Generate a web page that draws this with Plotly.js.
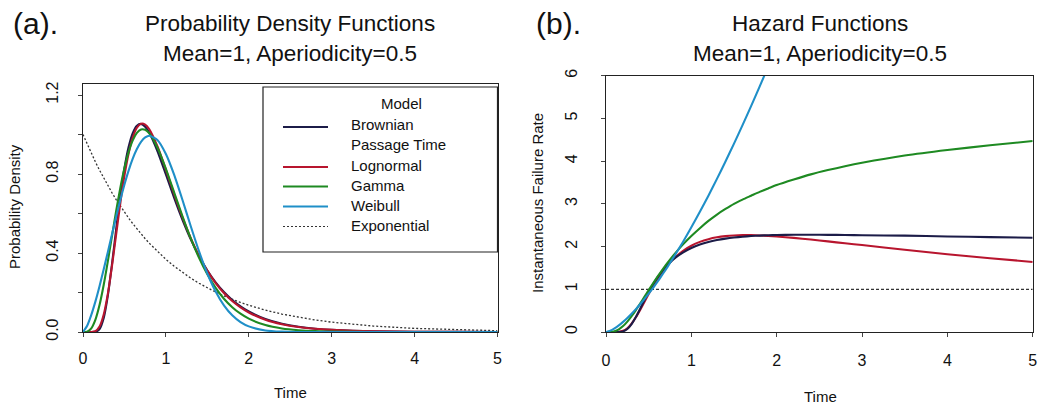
<!DOCTYPE html>
<html>
<head>
<meta charset="utf-8">
<script src="https://cdn.plot.ly/plotly-3.0.1.min.js"></script>
<style>
  html, body { margin: 0; padding: 0; background: #ffffff; }
  #chart { width: 1039px; height: 405px; }
</style>
</head>
<body>
<div id="chart"></div>
<script>
// Time grid shared by every curve
const time = [0, 0.05, 0.1, 0.15, 0.2, 0.25, 0.3, 0.35, 0.4, 0.45, 0.5, 0.55, 0.6, 0.65, 0.7, 0.75, 0.8,
              0.9, 1.0, 1.1, 1.2, 1.3, 1.4, 1.5, 1.6, 1.7, 1.8, 1.9, 2.0,
              2.2, 2.4, 2.6, 2.8, 3.0, 3.5, 4.0, 4.5, 5.0];

// Probability densities (mean 1, aperiodicity 0.5)
const pdfBPT = [0, 0, 0, 0.0009, 0.0148, 0.0709, 0.185, 0.3445, 0.521, 0.689, 0.830, 0.9366, 1.0071, 1.0445, 1.0535, 1.0398, 1.0089,
                0.9139, 0.7979, 0.6791, 0.5678, 0.4687, 0.3833, 0.3112, 0.2514, 0.2023, 0.1623, 0.1299, 0.1038,
                0.0660, 0.0419, 0.0266, 0.0168, 0.0107, 0.0034, 0.0011, 0.0004, 0.0001];
const pdfLognormal = [0, 0, 0.0002, 0.0045, 0.0277, 0.0886, 0.1942, 0.3357, 0.4947, 0.6519, 0.7916, 0.9039, 0.9848, 1.0341, 1.0546, 1.0504, 1.0266,
                      0.9383, 0.8213, 0.6976, 0.5799, 0.4749, 0.3847, 0.3093, 0.2474, 0.1972, 0.1568, 0.1246, 0.0989,
                      0.0625, 0.0397, 0.0253, 0.0163, 0.0106, 0.0037, 0.0014, 0.0005, 0.0002];
const pdfGamma = [0, 0.002, 0.0187, 0.0627, 0.1375, 0.2391, 0.3591, 0.4868, 0.6129, 0.7294, 0.8300, 0.9109, 0.9704, 1.0082, 1.0252, 1.0236, 1.0056,
                  0.9319, 0.8261, 0.7062, 0.5859, 0.4741, 0.3755, 0.2920, 0.2234, 0.1686, 0.1257, 0.0925, 0.0675,
                  0.0350, 0.0176, 0.0087, 0.0042, 0.0020, 0.0003, 0.0001, 0, 0];
const pdfWeibull = [0, 0.0318, 0.0866, 0.1550, 0.2330, 0.3174, 0.4057, 0.4954, 0.5837, 0.6682, 0.7468, 0.8172, 0.8775, 0.9263, 0.9623, 0.9849, 0.9937,
                    0.9713, 0.9013, 0.7956, 0.6685, 0.5352, 0.4081, 0.2963, 0.2049, 0.1348, 0.0843, 0.0501, 0.0284,
                    0.0077, 0.0017, 0.0003, 0, 0, 0, 0, 0, 0];
const pdfExponential = [1, 0.9512, 0.9048, 0.8607, 0.8187, 0.7788, 0.7408, 0.7047, 0.6703, 0.6376, 0.6065, 0.5769, 0.5488, 0.5220, 0.4966, 0.4724, 0.4493,
                        0.4066, 0.3679, 0.3329, 0.3012, 0.2725, 0.2466, 0.2231, 0.2019, 0.1827, 0.1653, 0.1496, 0.1353,
                        0.1108, 0.0907, 0.0743, 0.0608, 0.0498, 0.0302, 0.0183, 0.0111, 0.0067];

// Hazard functions (instantaneous failure rate)
const hazBPT = [0, 0, 0, 0.0009, 0.0148, 0.0711, 0.1866, 0.3521, 0.5445, 0.7436, 0.9345, 1.1096, 1.2662, 1.404, 1.5237, 1.6272, 1.7166,
                1.8602, 1.9672, 2.0469, 2.1068, 2.152, 2.1863, 2.2119, 2.2313, 2.246, 2.2573, 2.2647, 2.270,
                2.2754, 2.2762, 2.274, 2.2712, 2.266, 2.255, 2.2366, 2.221, 2.208];
const hazLognormal = [0, 0, 0.0002, 0.0045, 0.0277, 0.0889, 0.1962, 0.3438, 0.5176, 0.7032, 0.8886, 1.0655, 1.2295, 1.3781, 1.5107, 1.6276, 1.7302,
                      1.8965, 2.0197, 2.1094, 2.1726, 2.2161, 2.2438, 2.2600, 2.2670, 2.2669, 2.2604, 2.2507, 2.2355,
                      2.2030, 2.1659, 2.1214, 2.0760, 2.035, 1.926, 1.822, 1.728, 1.64];
const hazGamma = [0, 0.002, 0.0187, 0.0628, 0.1385, 0.2431, 0.3708, 0.5138, 0.6663, 0.823, 0.9796, 1.1336, 1.283, 1.4264, 1.5631, 1.6932, 1.8172,
                  2.0452, 2.247, 2.43, 2.6, 2.75, 2.88, 3.0, 3.1, 3.19, 3.28, 3.36, 3.44,
                  3.57, 3.69, 3.79, 3.88, 3.96, 4.13, 4.26, 4.37, 4.47];
const hazWeibull = [0, 0.0318, 0.0870, 0.1565, 0.2376, 0.3282, 0.4275, 0.5347, 0.6489, 0.7697, 0.8968, 1.0297, 1.1681, 1.3120, 1.4608, 1.6144, 1.7728,
                    2.1029, 2.45, 2.8131, 3.1914, 3.5841, 3.9906, 4.4106, 4.8434, 5.2883, 5.7454, 6.2137, 6.6937];
const expTime = [0, 5];
const hazExponential = [1, 1];

// Model names, legend labels and line colours
const models = ["Brownian Passage Time", "Lognormal", "Gamma", "Weibull", "Exponential"];
const legendLabels = ["Brownian", "Passage Time", "Lognormal", "Gamma", "Weibull", "Exponential"];
const colors = ["#1c1c48", "#b8152e", "#1e8a22", "#1f8fc8", "#333333"];

const xTicks = [0, 1, 2, 3, 4, 5];
const pdfTickVals = [0, 0.2, 0.4, 0.6, 0.8, 1.0, 1.2];
const pdfTickText = ["0.0", "", "0.4", "", "0.8", "", "1.2"];
const hazTickVals = [0, 1, 2, 3, 4, 5, 6];

const W = 1039, H = 405;
const FONT = "Liberation Sans, Arial, Helvetica, sans-serif";
const px = v => v / W;
const py = v => 1 - v / H;

function curve(x, y, i, xa, ya, dash) {
  return {
    x: x, y: y, xaxis: xa, yaxis: ya, type: "scatter", mode: "lines",
    name: models[i], showlegend: false, hoverinfo: "skip",
    line: {color: colors[i], width: dash ? 1.3 : 2.1, dash: dash || "solid", shape: dash ? "linear" : "spline", smoothing: 0.6}
  };
}

const data = [
  curve(time, pdfExponential, 4, "x", "y", "2px,2px"),
  curve(time, pdfBPT, 0, "x", "y"),
  curve(time, pdfLognormal, 1, "x", "y"),
  curve(time, pdfGamma, 2, "x", "y"),
  curve(time, pdfWeibull, 3, "x", "y"),
  curve(expTime, hazExponential, 4, "x2", "y2", "3px,2px"),
  curve(time, hazLognormal, 1, "x2", "y2"),
  curve(time, hazBPT, 0, "x2", "y2"),
  curve(time, hazGamma, 2, "x2", "y2"),
  curve(time.slice(0, hazWeibull.length), hazWeibull, 3, "x2", "y2")
];

const axisCommon = {
  showline: true, mirror: true, linecolor: "#222", linewidth: 1.2,
  ticks: "outside", ticklen: 4, tickwidth: 1, tickcolor: "#444",
  showgrid: false, zeroline: false, fixedrange: true,
  tickfont: {family: FONT, size: 16, color: "#111"}
};

const layout = {
  width: W, height: H,
  margin: {l: 0, r: 0, t: 0, b: 0},
  paper_bgcolor: "#ffffff", plot_bgcolor: "#ffffff",
  font: {family: FONT, color: "#111"},
  showlegend: false,
  xaxis: Object.assign({}, axisCommon, {
    domain: [px(83), px(497.5)], range: [0, 5], anchor: "y",
    tickvals: xTicks, ticklabelstandoff: 8
  }),
  yaxis: Object.assign({}, axisCommon, {
    domain: [py(332), py(84)], range: [0, 1.2557], anchor: "x",
    tickvals: pdfTickVals, ticktext: pdfTickText, tickangle: -90, ticklabelstandoff: 13
  }),
  xaxis2: Object.assign({}, axisCommon, {
    domain: [px(606), px(1032.7)], range: [0, 5], anchor: "y2",
    tickvals: xTicks, ticklabelstandoff: 10
  }),
  yaxis2: Object.assign({}, axisCommon, {
    domain: [py(332), py(75.7)], range: [0, 6], anchor: "x2",
    tickvals: hazTickVals, tickangle: -90, ticklabelstandoff: 17
  }),
  shapes: [],
  annotations: []
};

function label(text, x, y, size, opts) {
  return Object.assign({
    text: text, xref: "paper", yref: "paper", x: px(x), y: py(y),
    xanchor: "center", yanchor: "middle", showarrow: false,
    font: {family: FONT, size: size, color: "#111"}
  }, opts || {});
}

// Panel tags and two-line titles
layout.annotations.push(label("(a).", 11, 24, 30, {xanchor: "left"}));
layout.annotations.push(label("(b).", 534, 24, 30, {xanchor: "left"}));
layout.annotations.push(label("Probability Density Functions", 290, 24, 22.5));
layout.annotations.push(label("Mean=1, Aperiodicity=0.5", 290, 53, 22.5));
layout.annotations.push(label("Hazard Functions", 820, 24, 22.5));
layout.annotations.push(label("Mean=1, Aperiodicity=0.5", 820, 53, 22.5));

// Axis titles
layout.annotations.push(label("Time", 290, 392, 15));
layout.annotations.push(label("Time", 820, 396, 15));
layout.annotations.push(label("Probability Density", 15, 207, 15, {textangle: -90}));
layout.annotations.push(label("Instantaneous Failure Rate", 537, 203, 15, {textangle: -90}));

// Legend box with title, line samples and labels
layout.shapes.push({type: "rect", xref: "paper", yref: "paper",
  x0: px(263), x1: px(497.5), y0: py(252), y1: py(87),
  line: {color: "#222", width: 1.2}, fillcolor: "rgba(0,0,0,0)"});
layout.annotations.push(label("Model", 401.5, 103, 15));

const sampleRows = [127, 167, 186.5, 206.5, 226.5];
const sampleDash = ["solid", "solid", "solid", "solid", "2px,2px"];
sampleRows.forEach((yy, i) => {
  layout.shapes.push({type: "line", xref: "paper", yref: "paper",
    x0: px(283), x1: px(328), y0: py(yy), y1: py(yy),
    line: {color: colors[i], width: i === 4 ? 1.2 : 2.1, dash: sampleDash[i]}});
});
const textRows = [124, 144, 165, 185, 205, 225.5];
legendLabels.forEach((t, i) => {
  layout.annotations.push(label(t, 349, textRows[i], 15, {xanchor: "left"}));
});

Plotly.newPlot("chart", data, layout, {staticPlot: true, displayModeBar: false});
</script>
</body>
</html>
